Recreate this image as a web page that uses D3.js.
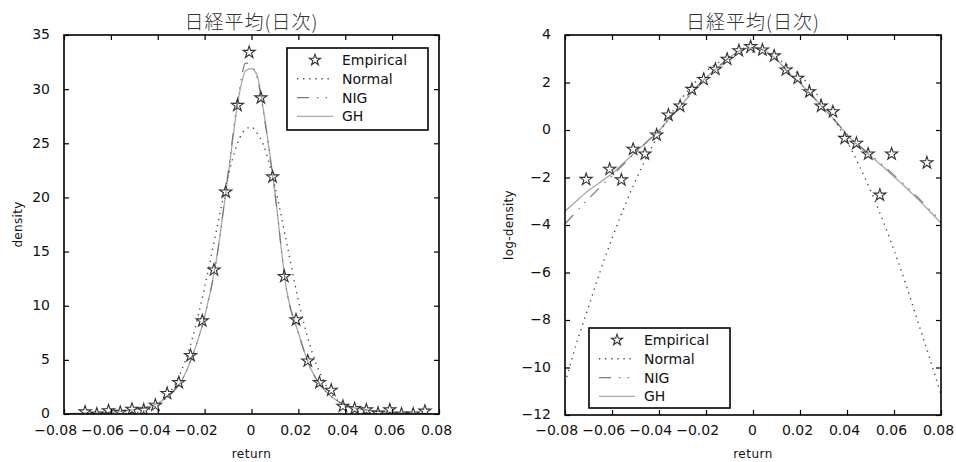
<!DOCTYPE html>
<html><head><meta charset="utf-8">
<script src="https://cdn.jsdelivr.net/npm/d3@7"></script>
<style>body{margin:0;background:#fff;} svg{display:block;}</style>
</head><body>
<svg id="c" width="956" height="462"></svg>
<script>
const titleText = "日経平均(日次)";
const xLabelText = "return";
const seriesNames = ["Empirical", "Normal", "NIG", "GH"];
const xTicks = [-0.08, -0.06, -0.04, -0.02, 0, 0.02, 0.04, 0.06, 0.08];
const densityTicks = [0, 5, 10, 15, 20, 25, 30, 35];
const logTicks = [-12, -10, -8, -6, -4, -2, 0, 2, 4];

// empirical histogram (bin centres)
const empX = [-0.071, -0.066, -0.061, -0.056, -0.051, -0.046, -0.041, -0.036, -0.031, -0.026,
  -0.021, -0.016, -0.011, -0.006, -0.001, 0.004, 0.009, 0.014, 0.019, 0.024,
  0.029, 0.034, 0.039, 0.044, 0.049, 0.054, 0.059, 0.064, 0.069, 0.074];
const empDensity = [0.2, 0.0, 0.3, 0.15, 0.44, 0.38, 0.81, 1.9, 2.9, 5.4,
  8.6, 13.3, 20.5, 28.5, 33.4, 29.2, 21.9, 12.7, 8.7, 4.9,
  2.9, 2.2, 0.72, 0.5, 0.38, 0.08, 0.38, 0.0, 0.0, 0.27];
const empLogDensity = [-2.08, null, -1.65, -2.1, -0.81, -1.01, -0.21, 0.63, 1.01, 1.71,
  2.13, 2.56, 2.98, 3.34, 3.51, 3.37, 3.12, 2.53, 2.18, 1.61,
  1.01, 0.77, -0.35, -0.56, -1.01, -2.74, -1.01, null, null, -1.38];

// fitted curves
const curveX = [-0.08, -0.075, -0.07, -0.065, -0.06, -0.055, -0.05, -0.045, -0.04, -0.035,
  -0.03, -0.025, -0.02, -0.015, -0.01, -0.005, -0.0025, 0, 0.0025, 0.005,
  0.01, 0.015, 0.02, 0.025, 0.03, 0.035, 0.04, 0.045, 0.05, 0.055,
  0.06, 0.065, 0.07, 0.075, 0.08];
const normalDensity = [0, 0.0001, 0.0006, 0.0026, 0.0104, 0.037, 0.118, 0.336, 0.85, 1.93,
  3.94, 7.17, 11.7, 16.9, 22.0, 25.5, 26.3, 26.5, 25.9, 24.9,
  21.0, 15.8, 10.5, 6.3, 3.4, 1.65, 0.72, 0.28, 0.095, 0.03,
  0.008, 0.002, 0.0004, 0.0001, 0];
const nigDensity = [0.019, 0.033, 0.055, 0.09, 0.145, 0.24, 0.39, 0.61, 0.98, 1.75,
  3.0, 5.5, 9.0, 14.2, 22.2, 30.2, 32.4, 32.2, 31.0, 28.0,
  20.4, 11.4, 7.5, 4.3, 2.5, 1.46, 0.84, 0.53, 0.35, 0.23,
  0.15, 0.095, 0.059, 0.036, 0.021];
const ghDensity = [0.03, 0.05, 0.08, 0.11, 0.16, 0.25, 0.4, 0.62, 0.98, 1.75,
  3.0, 5.5, 9.0, 14.2, 22.0, 29.8, 31.7, 31.9, 31.2, 28.2,
  20.4, 11.4, 7.5, 4.3, 2.5, 1.46, 0.82, 0.5, 0.33, 0.22,
  0.14, 0.09, 0.055, 0.033, 0.02];
const normalLog = [-10.65, -8.95, -7.45, -5.95, -4.57, -3.30, -2.14, -1.09, -0.16, 0.66,
  1.37, 1.97, 2.46, 2.83, 3.09, 3.24, 3.265, 3.275, 3.25, 3.20,
  3.01, 2.71, 2.30, 1.77, 1.13, 0.38, -0.48, -1.46, -2.55, -3.74,
  -5.06, -6.48, -8.02, -9.55, -11.15];
const nigLog = [-3.95, -3.42, -2.9, -2.4, -1.93, -1.43, -0.95, -0.49, -0.02, 0.55,
  1.1, 1.7, 2.2, 2.64, 3.07, 3.4, 3.48, 3.47, 3.43, 3.33,
  2.98, 2.42, 1.97, 1.46, 0.92, 0.38, -0.18, -0.64, -1.05, -1.46,
  -1.9, -2.35, -2.83, -3.33, -3.85];
const ghLog = [-3.42, -2.98, -2.55, -2.2, -1.83, -1.38, -0.93, -0.48, -0.02, 0.55,
  1.1, 1.7, 2.2, 2.63, 3.05, 3.37, 3.45, 3.46, 3.44, 3.34,
  2.98, 2.42, 1.97, 1.46, 0.92, 0.38, -0.2, -0.68, -1.1, -1.52,
  -1.97, -2.42, -2.9, -3.4, -3.92];

const styles = {
  Normal: {stroke: "#4a4a4a", width: 1.4, dash: "1.3,4.8"},
  NIG: {stroke: "#7a7a7a", width: 1.2, dash: "12,8,1.5,7,1.5,7"},
  GH: {stroke: "#a8a8a8", width: 1.3, dash: null}
};

const svg = d3.select("#c");
const tickFont = "'DejaVu Sans', sans-serif";
const tickSize = 14;
const xLabelBaseline = 434.5;

const panels = [
  {left: 64, right: 439, top: 35, bottom: 414, yDomain: [0, 35], yTicks: densityTicks,
   yLabel: "density", yLabelX: 18,
   curves: {Normal: normalDensity, NIG: nigDensity, GH: ghDensity}, emp: empDensity,
   legend: {x: 287, y: 48, w: 141, h: 82}},
  {left: 565, right: 941, top: 35, bottom: 415, yDomain: [-12, 4], yTicks: logTicks,
   yLabel: "log-density", yLabelX: 509,
   curves: {Normal: normalLog, NIG: nigLog, GH: ghLog}, emp: empLogDensity,
   legend: {x: 589, y: 328, w: 141, h: 80}}
];

const starPath = d3.symbol(d3.symbolStar).size(46)();
const starLegend = d3.symbol(d3.symbolStar).size(38)();

panels.forEach((p, pi) => {
  const g = svg.append("g");
  const x = d3.scaleLinear().domain([-0.08, 0.08]).range([p.left, p.right]);
  const y = d3.scaleLinear().domain(p.yDomain).range([p.bottom, p.top]);
  const cx = (p.left + p.right) / 2;
  const cy = (p.top + p.bottom) / 2;

  const clipId = "clip" + pi;
  svg.append("clipPath").attr("id", clipId).append("rect")
    .attr("x", p.left).attr("y", p.top).attr("width", p.right - p.left).attr("height", p.bottom - p.top);

  // title
  g.append("text").attr("x", cx).attr("y", 29).attr("text-anchor", "middle")
    .attr("font-family", "'Noto Sans CJK JP', sans-serif").attr("font-size", 19)
    .attr("font-weight", 300)
    .attr("letter-spacing", 1).attr("fill", "#333").text(titleText);

  // curves
  const plot = g.append("g").attr("clip-path", `url(#${clipId})`);
  ["GH", "NIG", "Normal"].forEach(name => {
    const vals = p.curves[name];
    const line = d3.line().x((d, i) => x(curveX[i])).y(d => y(d)).curve(d3.curveMonotoneX);
    const st = styles[name];
    plot.append("path").datum(vals).attr("d", line).attr("fill", "none")
      .attr("stroke", st.stroke).attr("stroke-width", st.width)
      .attr("stroke-dasharray", st.dash);
  });

  // empirical stars
  plot.selectAll("path.star").data(empX.map((v, i) => [v, p.emp[i]]).filter(d => d[1] !== null))
    .enter().append("path").attr("class", "star").attr("d", starPath)
    .attr("transform", d => `translate(${x(d[0])},${y(d[1])})`)
    .attr("fill", "none").attr("stroke", "#333").attr("stroke-width", 1.1);

  // axes with inward ticks on all four sides
  const tl = 5;
  const axB = d3.axisBottom(x).tickValues(xTicks).tickSize(-tl).tickPadding(10)
    .tickFormat(d => d === 0 ? "0" : d3.format(".2f")(d).replace("-", "\u2212"));
  const gB = g.append("g").attr("transform", `translate(0,${p.bottom})`).call(axB);
  const axT = d3.axisTop(x).tickValues(xTicks).tickSize(-tl).tickFormat("");
  const gT = g.append("g").attr("transform", `translate(0,${p.top})`).call(axT);
  const axL = d3.axisLeft(y).tickValues(p.yTicks).tickSize(-tl).tickPadding(14)
    .tickFormat(d => String(d).replace("-", "\u2212"));
  const gL = g.append("g").attr("transform", `translate(${p.left},0)`).call(axL);
  const axR = d3.axisRight(y).tickValues(p.yTicks).tickSize(-tl).tickFormat("");
  const gR = g.append("g").attr("transform", `translate(${p.right},0)`).call(axR);
  [gB, gT, gL, gR].forEach(a => {
    a.select(".domain").remove();
    a.selectAll(".tick line").attr("stroke", "#000").attr("stroke-width", 1.2);
    a.selectAll("text").attr("font-family", tickFont).attr("font-size", tickSize).attr("fill", "#111");
  });
  gL.selectAll(".tick text").attr("dy", "0.28em");
  gB.selectAll(".tick text").attr("y", xLabelBaseline - p.bottom).attr("dy", 0).each(function(d) {
    const t = d3.select(this);
    let shift = -3;
    if (d < 0) {
      const tmp = g.append("text").attr("font-family", tickFont).attr("font-size", tickSize).text("\u2212");
      shift -= tmp.node().getComputedTextLength() / 2;
      tmp.remove();
    }
    if (d === 0) shift = -1;
    t.attr("dx", shift);
  });

  // frame
  g.append("rect").attr("x", p.left).attr("y", p.top)
    .attr("width", p.right - p.left).attr("height", p.bottom - p.top)
    .attr("fill", "none").attr("stroke", "#000").attr("stroke-width", 1.6);

  // axis labels
  g.append("text").attr("x", cx).attr("y", 458).attr("text-anchor", "middle")
    .attr("font-family", tickFont).attr("font-size", 12).attr("letter-spacing", 0.5)
    .attr("fill", "#111").text(xLabelText);
  g.append("text").attr("transform", `translate(${p.yLabelX + 4},${cy}) rotate(-90)`)
    .attr("text-anchor", "middle").attr("font-family", tickFont).attr("font-size", 12)
    .attr("letter-spacing", 0.3).attr("fill", "#111").text(p.yLabel);

  // legend
  const L = p.legend;
  const lg = g.append("g");
  lg.append("rect").attr("x", L.x).attr("y", L.y).attr("width", L.w).attr("height", L.h)
    .attr("fill", "#fff").attr("stroke", "#000").attr("stroke-width", 1.6);
  seriesNames.forEach((name, i) => {
    const ry = L.y + 12 + i * 18.8;
    if (name === "Empirical") {
      lg.append("path").attr("d", starLegend).attr("transform", `translate(${L.x + 28},${ry})`)
        .attr("fill", "none").attr("stroke", "#333").attr("stroke-width", 1.1);
    } else {
      const st = styles[name];
      lg.append("line").attr("x1", L.x + 10).attr("x2", L.x + 46).attr("y1", ry).attr("y2", ry)
        .attr("stroke", st.stroke).attr("stroke-width", st.width).attr("stroke-dasharray", st.dash);
    }
    lg.append("text").attr("x", L.x + 55).attr("y", ry + 5).attr("font-family", tickFont)
      .attr("font-size", 14).attr("fill", "#111").text(name);
  });
});
</script>
</body></html>
